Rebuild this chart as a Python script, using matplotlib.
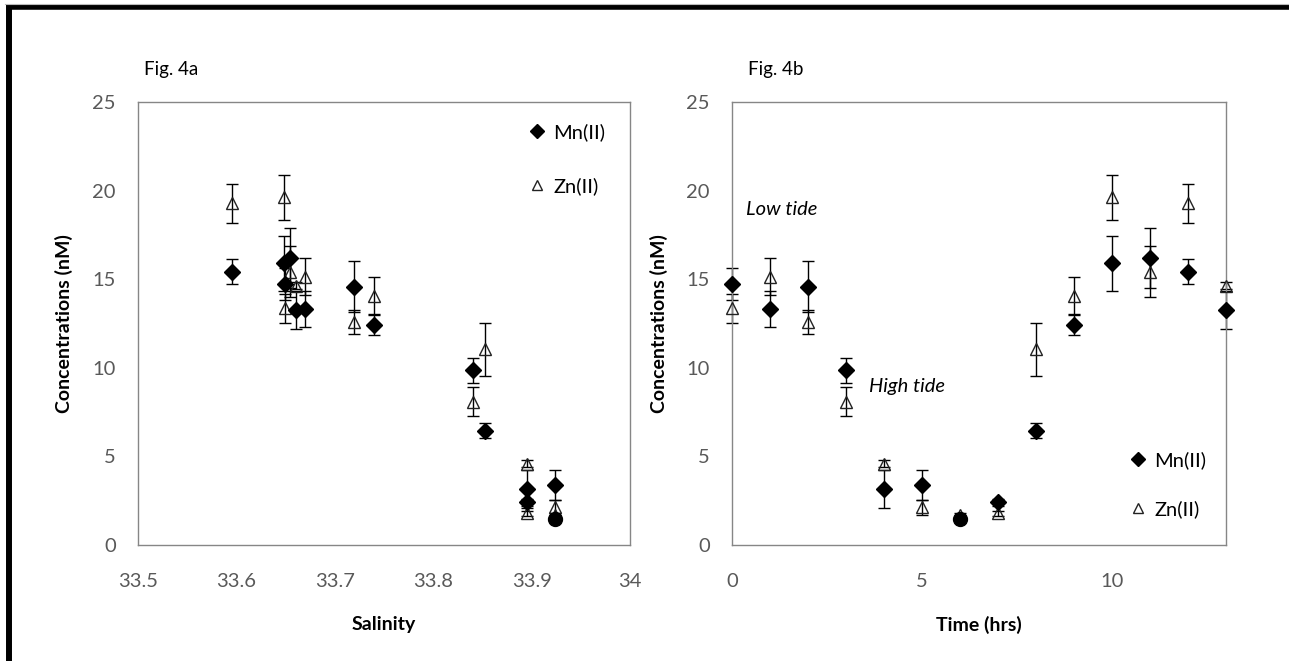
import matplotlib
matplotlib.use("Agg")
import matplotlib.pyplot as plt
from matplotlib.lines import Line2D

plt.rcParams['font.family'] = ['Lato', 'DejaVu Sans']

# sampling time (hrs) and matching salinity of each sample
time_hrs = [0, 1, 2, 3, 4, 5, 6, 7, 8, 9, 10, 11, 12, 13]
salinity = [33.649, 33.670, 33.720, 33.840, 33.895, 33.924, 33.924,
            33.895, 33.853, 33.740, 33.648, 33.654, 33.596, 33.661]

# concentrations (nM) with error bars
mn = [14.75, 13.30, 14.57, 9.85, 3.17, 3.40, 1.45, 2.42, 6.45, 12.43, 15.89, 16.19, 15.43, 13.26]
mn_err = [0.91, 1.02, 1.43, 0.72, 1.08, 0.85, 0.10, 0.20, 0.43, 0.58, 1.57, 1.68, 0.70, 1.06]
mn_marker = ['D', 'D', 'D', 'D', 'D', 'D', 'o', 'D', 'D', 'D', 'D', 'D', 'D', 'D']
zn = [13.36, 15.15, 12.58, 8.08, 4.58, 2.13, 1.70, 1.79, 11.04, 14.06, 19.62, 15.43, 19.28, 14.62]
zn_err = [0.81, 1.04, 0.66, 0.81, 0.20, 0.43, 0.10, 0.15, 1.51, 1.07, 1.28, 1.45, 1.09, 0.20]

y_ticks = [0, 5, 10, 15, 20, 25]
sal_ticks = [33.5, 33.6, 33.7, 33.8, 33.9, 34.0]
sal_labels = ['33.5', '33.6', '33.7', '33.8', '33.9', '34']
time_ticks = [0, 5, 10]

tick_color = '#595959'
W, H = 1289, 661

fig = plt.figure(figsize=(W / 100, H / 100), dpi=100)
ax1 = fig.add_axes([138 / W, 1 - 545 / H, 492 / W, 443 / H])
ax2 = fig.add_axes([732 / W, 1 - 545 / H, 494 / W, 443 / H])


def errbars(ax, x, y, e):
    cont = ax.errorbar(x, y, yerr=e, fmt='none', ecolor='black', elinewidth=1,
                       capsize=4, capthick=1, zorder=2)
    for art in cont.get_children():
        art.set_clip_on(False)


def draw_panel(ax, x):
    # Zn(II): open triangles
    errbars(ax, x, zn, zn_err)
    ax.plot(x, zn, linestyle='none', marker='^', markersize=8, markerfacecolor='none',
            markeredgecolor='#222222', markeredgewidth=1, zorder=3, clip_on=False)
    # Mn(II): filled diamonds (one sample drawn as a circle)
    errbars(ax, x, mn, mn_err)
    for xi, yi, m in zip(x, mn, mn_marker):
        ax.plot(xi, yi, linestyle='none', marker=m, markersize=8.5 if m == 'D' else 10,
                color='black', zorder=4, clip_on=False)

    ax.set_ylim(0, 25)
    ax.set_yticks(y_ticks)
    ax.tick_params(length=0, labelsize=14.5, labelcolor=tick_color)
    ax.tick_params(axis='x', pad=20)
    ax.tick_params(axis='y', pad=16)
    for s in ax.spines.values():
        s.set_color('#868686')
        s.set_linewidth(1)
    ax.set_ylabel('Concentrations (nM)', fontsize=14, fontweight='bold')


draw_panel(ax1, salinity)
ax1.set_xlim(33.5, 34.0)
ax1.set_xticks(sal_ticks)
ax1.set_xticklabels(sal_labels)
ax1.set_xlabel('Salinity', fontsize=14, fontweight='bold')
ax1.yaxis.set_label_coords(-0.132, 0.5)
ax1.xaxis.set_label_coords(0.5, -0.16)

draw_panel(ax2, time_hrs)
ax2.set_xlim(0, 13)
ax2.set_xticks(time_ticks)
ax2.set_xlabel('Time (hrs)', fontsize=14, fontweight='bold')
ax2.yaxis.set_label_coords(-0.13, 0.5)
ax2.xaxis.set_label_coords(0.5, -0.16)

ax2.text(0.38, 18.96, 'Low tide', fontsize=14.5, style='italic', va='center', ha='left')
ax2.text(3.6, 8.96, 'High tide', fontsize=14.5, style='italic', va='center', ha='left')

handles = [Line2D([], [], linestyle='none', marker='D', markersize=7, color='black'),
           Line2D([], [], linestyle='none', marker='^', markersize=7, markerfacecolor='none',
                  markeredgecolor='#222222', markeredgewidth=1)]
names = ['Mn(II)', 'Zn(II)']
ax1.legend(handles, names, loc='upper left', bbox_to_anchor=(0.775, 0.975), frameon=False,
           fontsize=14.5, handlelength=0.8, handletextpad=0.4, labelspacing=1.8, borderpad=0)
ax2.legend(handles, names, loc='upper left', bbox_to_anchor=(0.785, 0.235), frameon=False,
           fontsize=14.5, handlelength=0.8, handletextpad=0.4, labelspacing=1.55, borderpad=0)

fig.text(144 / W, 1 - 70 / H, 'Fig. 4a', fontsize=13.5, va='center', ha='left')
fig.text(748 / W, 1 - 70 / H, 'Fig. 4b', fontsize=13.5, va='center', ha='left')

# outer frame (top and left edges only)
fig.add_artist(Line2D([6.5 / W, 1], [1 - 6.5 / H, 1 - 6.5 / H], color='black', lw=4,
                      solid_capstyle='butt'))
fig.add_artist(Line2D([8.5 / W, 8.5 / W], [0, 1 - 4 / H], color='black', lw=4.3,
                      solid_capstyle='butt'))
fig.add_artist(Line2D([5 / W, 1], [1 - 3.5 / H, 1 - 3.5 / H], color='#bbbbbb', lw=0.8))

fig.savefig('out.png', dpi=100)
